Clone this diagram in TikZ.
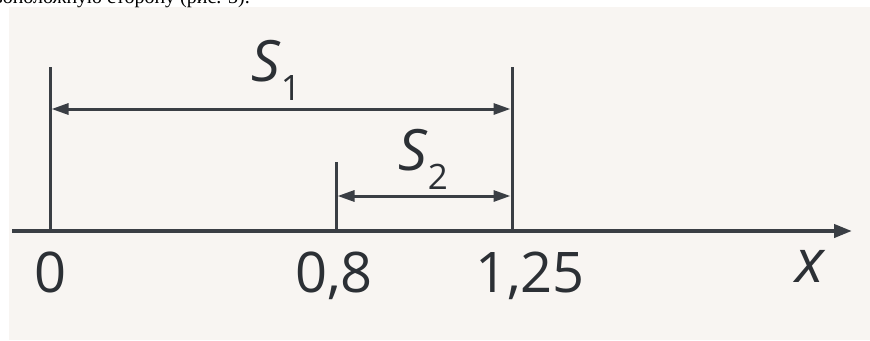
\documentclass[tikz,border=0pt]{standalone}
\usepackage{fontspec}
\setmainfont{Open Sans}
\newfontfamily\serifcyr{Liberation Serif}
\usetikzlibrary{arrows.meta}
\definecolor{panel}{HTML}{F8F5F2}
\definecolor{ink}{HTML}{3A3E44}
\definecolor{txt}{HTML}{2C3035}
\tikzset{
  tick/.style={draw=ink, line width=3pt},
  axisline/.style={draw=ink, line width=4pt, -{Triangle[length=18pt,width=13pt]}},
  dimline/.style={draw=ink, line width=3pt, {Triangle[length=17pt,width=11pt]}-{Triangle[length=17pt,width=11pt]}},
  lab/.style={text=txt, inner sep=0pt, anchor=base, font=\fontsize{56}{60}\selectfont},
  labx/.style={text=txt, inner sep=0pt, anchor=base, font=\fontsize{60}{64}\selectfont\itshape},
  slab/.style={text=txt, inner sep=0pt, anchor=base west},
}
\newcommand{\slabel}[1]{{\fontsize{57}{60}\selectfont\itshape S}\kern1pt\raisebox{-19pt}{\fontsize{35}{40}\selectfont\upshape #1}}
\begin{document}
\begin{tikzpicture}[x=1pt,y=-1pt]
\useasboundingbox (0,0) rectangle (870,340);
\fill[panel] (9,7) rectangle (870,340);
\begin{scope}
\clip (0,0) rectangle (870,7);
\node[anchor=base east, inner sep=0pt, text=black, font=\serifcyr\fontsize{20}{24}\selectfont] (cap) at (250,3) {противоположную сторону (рис. 3).};
\end{scope}
% coordinates
\coordinate (axL) at (12,231);
\coordinate (axR) at (852,231);
\coordinate (t0top) at (50,67);
\coordinate (t0bot) at (50,231);
\coordinate (t8top) at (336,162);
\coordinate (t8bot) at (336,231);
\coordinate (t125top) at (512,67);
\coordinate (t125bot) at (512,231);
\coordinate (s1l) at (51.5,109);
\coordinate (s1r) at (510.5,109);
\coordinate (s2l) at (337.5,196);
\coordinate (s2r) at (510.5,196);
% ticks
\draw[tick] (t0top) -- (t0bot);
\draw[tick] (t8top) -- (t8bot);
\draw[tick] (t125top) -- (t125bot);
% axis
\draw[axisline] (axL) -- (axR);
% dimension arrows
\draw[dimline] (s1l) -- (s1r);
\draw[dimline] (s2l) -- (s2r);
% labels
\node[slab] (S1) at (251,81) {\slabel{1}};
\node[slab] (S2) at (398,170) {\slabel{2}};
\node[lab] (l0) at (51,292) {0};
\node[lab] (l08) at (334,292) {0,8};
\node[lab] (l125) at (530,292) {1,25};
\node[labx] (lx) at (810,282) {x};
\end{tikzpicture}
\end{document}
